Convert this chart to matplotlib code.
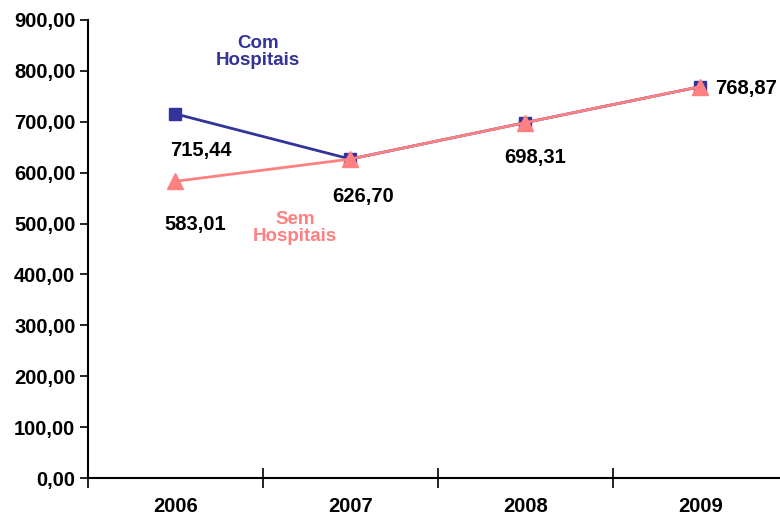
import matplotlib
matplotlib.use("Agg")
import matplotlib.pyplot as plt
import numpy as np

plt.rcParams['font.family'] = ['Liberation Sans', 'DejaVu Sans']
plt.rcParams['font.weight'] = 'bold'

anos = ['2006', '2007', '2008', '2009']
com_hosp = [715.44, 626.70, 698.31, 768.87]
sem_hosp = [583.01, 626.70, 698.31, 768.87]
rotulos = ['715,44', '626,70', '698,31', '768,87']
rotulo_sem = '583,01'
y_ticks = [0, 100, 200, 300, 400, 500, 600, 700, 800, 900]

azul = '#333399'
rosa = '#FF8080'
fs = 14.5

fig = plt.figure(figsize=(7.8, 5.17), dpi=100)
ax = fig.add_axes([0.1128, 0.0754, 0.897, 0.886])

x = np.arange(len(anos))
ax.plot(x, com_hosp, color=azul, lw=2, marker='s', ms=8.5, zorder=3)
ax.plot(x, sem_hosp, color=rosa, lw=2, marker='^', ms=12, zorder=4)

ax.set_xlim(-0.5, 3.5)
ax.set_ylim(0, 900)
ax.set_yticks(y_ticks)
ax.set_yticklabels([f'{v:.2f}'.replace('.', ',') for v in y_ticks], fontsize=fs)
ax.tick_params(axis='y', direction='out', length=6, width=1.2, pad=3)

ax.set_xticks(np.arange(-0.5, 4, 1))
ax.set_xticklabels([])
ax.set_xticks(x, minor=True)
ax.set_xticklabels(anos, minor=True, fontsize=fs)
ax.tick_params(axis='x', which='major', direction='inout', length=14, width=1.2)
ax.tick_params(axis='x', which='minor', length=0, pad=14)

for s in ['top', 'right']:
    ax.spines[s].set_visible(False)
for s in ['left', 'bottom']:
    ax.spines[s].set_linewidth(1.5)

# rótulos dos valores (offsets em pontos)
ax.annotate(rotulos[0], (x[0], com_hosp[0]), xytext=(18, -26), textcoords='offset points',
            ha='center', va='center', fontsize=fs)
ax.annotate(rotulo_sem, (x[0], sem_hosp[0]), xytext=(14, -31), textcoords='offset points',
            ha='center', va='center', fontsize=fs)
ax.annotate(rotulos[1], (x[1], com_hosp[1]), xytext=(9, -27), textcoords='offset points',
            ha='center', va='center', fontsize=fs)
ax.annotate(rotulos[2], (x[2], com_hosp[2]), xytext=(7, -25), textcoords='offset points',
            ha='center', va='center', fontsize=fs)
ax.annotate(rotulos[3], (x[3], com_hosp[3]), xytext=(11, -1.5), textcoords='offset points',
            ha='left', va='center', fontsize=fs)

fig.text(0.331, 0.899, 'Com\nHospitais', ha='center', va='center',
         color=azul, fontsize=13.5, linespacing=1.0)
fig.text(0.378, 0.559, 'Sem\nHospitais', ha='center', va='center',
         color=rosa, fontsize=13.5, linespacing=1.0)

fig.savefig('out.png', dpi=100)
